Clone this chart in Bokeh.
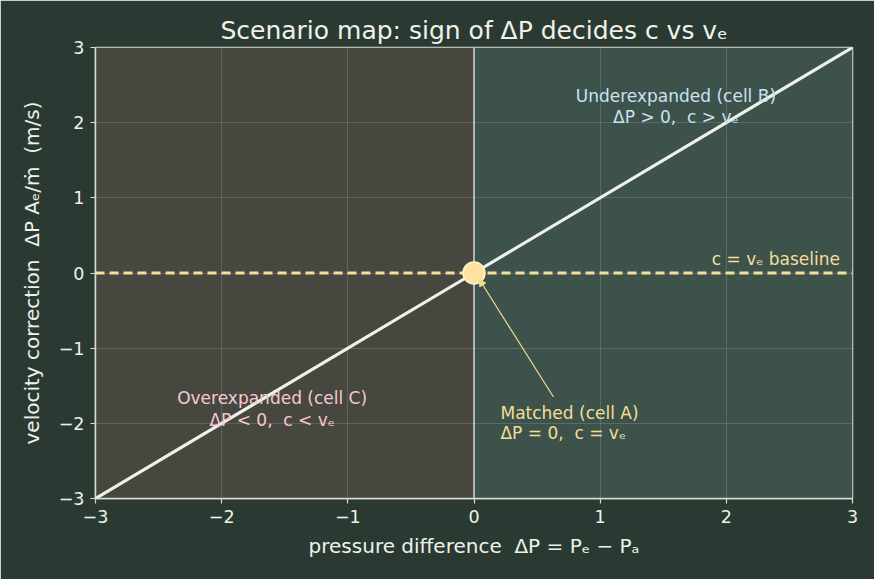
from bokeh.plotting import figure
from bokeh.models import Range1d, FixedTicker, Arrow, NormalHead, ColumnDataSource
from bokeh.core.properties import value
from bokeh.embed import file_html
from bokeh.resources import INLINE

# pressure difference axis and the linear velocity correction (slope 1)
dp = [-3, 0, 3]
dv = [-3, 0, 3]
ticks = [-3, -2, -1, 0, 1, 2, 3]
tick_labels = {t: (f"\u2212{abs(t)}" if t < 0 else str(t)) for t in ticks}

# regime shading: overexpanded (left) and underexpanded (right)
region_left = [-3, 0]
region_right = [0, 3]
region_colors = ["#46473f", "#3e524c"]

# matched point
match_x = [0]
match_y = [0]

BG = "#2a3a33"
FG = "#eef2ea"
FONT = "DejaVu Sans"
GAP = " \u00a0"  # wide gap that survives svg whitespace collapsing

p = figure(width=874, height=579, output_backend="svg", toolbar_location=None,
           x_range=Range1d(-3, 3), y_range=Range1d(-3, 3),
           min_border_left=95, min_border_right=22, min_border_top=47, min_border_bottom=81,
           title="Scenario map: sign of \u0394P decides c vs v\u2091")
p.background_fill_color = BG
p.border_fill_color = BG
p.outline_line_color = "#d8ddd4"
p.outline_line_width = 1.5

p.title.text_color = FG
p.title.text_font = FONT
p.title.text_font_size = "25px"
p.title.text_font_style = "normal"
p.title.align = "center"
p.title.standoff = 6

r = p.quad(left=region_left, right=region_right, bottom=-3, top=3,
           fill_color=region_colors, line_color=None)
r.level = "image"

for ax in (p.xaxis[0], p.yaxis[0]):
    ax.ticker = FixedTicker(ticks=ticks)
    ax.major_label_overrides = tick_labels
    ax.major_label_text_color = FG
    ax.major_label_text_font = FONT
    ax.major_label_text_font_size = "17.5px"
    ax.axis_line_color = "#d8ddd4"
    ax.axis_line_width = 1.5
    ax.major_tick_line_color = "#d8ddd4"
    ax.major_tick_line_width = 1.2
    ax.major_tick_out = 5
    ax.major_tick_in = 0
    ax.minor_tick_line_color = None
    ax.axis_label_text_color = FG
    ax.axis_label_text_font = FONT
    ax.axis_label_text_font_size = "20px"
    ax.axis_label_text_font_style = "normal"

p.xaxis.axis_label = "pressure difference" + GAP + "\u0394P = P\u2091 \u2212 P\u2090"
p.yaxis.axis_label = "velocity correction" + GAP + "\u0394P A\u2091/\u1e41" + GAP + "(m/s)"
p.xaxis.major_label_standoff = 6
p.yaxis.major_label_standoff = 6
p.xaxis.axis_label_standoff = 8
p.yaxis.axis_label_standoff = 12

p.grid.grid_line_color = "#dfe6dc"
p.grid.grid_line_alpha = 0.17
p.grid.grid_line_width = 1
p.xgrid.ticker = FixedTicker(ticks=ticks)
p.ygrid.ticker = FixedTicker(ticks=ticks)

# zero-pressure-difference divider
p.line(x=[0, 0], y=[-3, 3], line_color="#cfd4c8", line_width=1.5)

# c = v_e baseline
p.line(x=[-3, 3], y=[0, 0], line_color="#f7df98", line_width=3, line_dash="9 5")

# correction line
p.line(x=dp, y=dv, line_color=FG, line_width=3.2)

p.scatter(x=match_x, y=match_y, size=22, fill_color="#fde3a0", line_color="#fff2cc",
          line_width=1.5)

p.add_layout(Arrow(end=NormalHead(size=7, fill_color="#f0dc90", line_color="#f0dc90"),
                   x_start=0.63, y_start=-1.65, x_end=0.04, y_end=-0.08,
                   line_color="#f0dc90", line_width=1.2))

# annotations
labels = ColumnDataSource(dict(
    x=[1.6, 1.6, -1.6, -1.6, 0.21, 0.21, 2.9],
    y=[2.35, 2.07, -1.66, -1.95, -1.86, -2.13, 0.18],
    text=["Underexpanded (cell B)", "\u0394P > 0," + GAP + "c > v\u2091",
          "Overexpanded (cell C)", "\u0394P < 0," + GAP + "c < v\u2091",
          "Matched (cell A)", "\u0394P = 0," + GAP + "c = v\u2091",
          "c = v\u2091 baseline"],
    color=["#c9e2f2", "#c9e2f2", "#f5c9d3", "#f5c9d3", "#f3de94", "#f3de94", "#f3de94"],
    align=["center", "center", "center", "center", "left", "left", "right"],
))
p.text(x="x", y="y", text="text", text_color="color", text_align="align",
       text_baseline="middle", text_font=value(FONT), text_font_size="17px",
       source=labels)

open("out.html", "w").write(file_html(p, INLINE))
